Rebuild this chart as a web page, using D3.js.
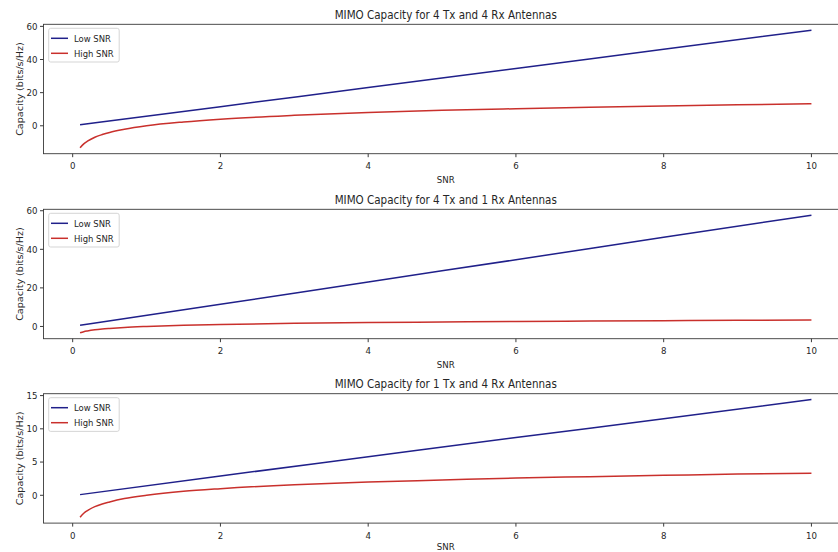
<!DOCTYPE html>
<html>
<head>
<meta charset="utf-8">
<script src="https://cdn.jsdelivr.net/npm/d3@7"></script>
<style>
  body { margin: 0; background: #fff; }
  svg { display: block; }
  text { font-family: "DejaVu Sans", sans-serif; fill: #262626; }
</style>
</head>
<body>
<div id="chart"></div>
<script>
// data
const titles = [
  "MIMO Capacity for 4 Tx and 4 Rx Antennas",
  "MIMO Capacity for 4 Tx and 1 Rx Antennas",
  "MIMO Capacity for 1 Tx and 4 Rx Antennas"
];
const seriesNames = ["Low SNR", "High SNR"];
const xTicks = [0, 2, 4, 6, 8, 10];
const yTicks = [[0, 20, 40, 60], [0, 20, 40, 60], [0, 5, 10, 15]];

const lowX = [0.1, 2, 4, 6, 8, 10];
const low1 = [0.6, 11.5, 23.1, 34.6, 46.2, 57.7];
const low2 = [0.6, 11.5, 23.1, 34.6, 46.2, 57.7];
const low3 = [0.1, 2.9, 5.8, 8.7, 11.5, 14.4];

const highX = [0.1, 0.15, 0.2, 0.3, 0.4, 0.5, 0.7, 1, 1.5, 2, 3, 4, 5, 6, 7, 8, 9, 10];
const high1 = [-13.3, -10.9, -9.3, -6.9, -5.3, -4.0, -2.1, 0, 2.3, 4.0, 6.3, 8.0, 9.3, 10.3, 11.2, 12.0, 12.7, 13.3];
const high2 = [-3.3, -2.7, -2.3, -1.7, -1.3, -1.0, -0.5, 0, 0.6, 1.0, 1.6, 2.0, 2.3, 2.6, 2.8, 3.0, 3.2, 3.3];
const high3 = [-3.3, -2.7, -2.3, -1.7, -1.3, -1.0, -0.5, 0, 0.6, 1.0, 1.6, 2.0, 2.3, 2.6, 2.8, 3.0, 3.2, 3.3];

const lows = [low1, low2, low3];
const highs = [high1, high2, high3];
const colors = ["#20208a", "#c9302c"];

const W = 838, H = 552;
const sx = 0.9; // picture is squeezed sideways
const left = 43.5, right = 848;
const tops = [24.3, 209.3, 393.7];
const ph = 129.4;

const svg = d3.select("#chart").append("svg")
  .attr("width", W).attr("height", H);

// text helper, squeezed horizontally like the reference
function txt(g, x, y, s, size, anchor, rot) {
  return g.append("text")
    .attr("transform", `translate(${x},${y}) scale(${sx},1)` + (rot ? ` rotate(${rot})` : ""))
    .attr("text-anchor", anchor || "start")
    .style("font-size", size + "px")
    .text(s);
}

const xmin = 0.1, xmax = 10, xpad = (xmax - xmin) * 0.05;
const x = d3.scaleLinear().domain([xmin - xpad, xmax + xpad]).range([left, right]);

tops.forEach((top, i) => {
  const bottom = top + ph;
  const lowPts = lowX.map((v, k) => [v, lows[i][k]]);
  const highPts = highX.map((v, k) => [v, highs[i][k]]);
  const ext = d3.extent(lows[i].concat(highs[i]));
  const ypad = (ext[1] - ext[0]) * 0.05;
  const y = d3.scaleLinear().domain([ext[0] - ypad, ext[1] + ypad]).range([bottom, top]);

  const g = svg.append("g");

  // lines
  const line = d3.line().x(d => x(d[0])).y(d => y(d[1])).curve(d3.curveMonotoneX);
  g.append("path").datum(lowPts).attr("d", line)
    .attr("fill", "none").attr("stroke", colors[0]).attr("stroke-width", 1.5);
  g.append("path").datum(highPts).attr("d", line)
    .attr("fill", "none").attr("stroke", colors[1]).attr("stroke-width", 1.5);

  // frame
  g.append("rect").attr("x", left).attr("y", top)
    .attr("width", right - left).attr("height", ph)
    .attr("fill", "none").attr("stroke", "#3a3a3a").attr("stroke-width", 0.9);

  // x ticks
  xTicks.forEach(t => {
    g.append("line").attr("x1", x(t)).attr("x2", x(t))
      .attr("y1", bottom).attr("y2", bottom + 3.5).attr("stroke", "#3a3a3a");
    txt(g, x(t), bottom + 15.5, t, 9.6, "middle");
  });
  // y ticks
  yTicks[i].forEach(t => {
    g.append("line").attr("x1", left - 3.5).attr("x2", left)
      .attr("y1", y(t)).attr("y2", y(t)).attr("stroke", "#3a3a3a");
    txt(g, left - 6, y(t) + 3.4, t, 9.6, "end");
  });

  txt(g, (left + right) / 2, top - 5.5, titles[i], 11.5, "middle");
  txt(g, (left + right) / 2, Math.min(bottom + 29.5, H - 2.5), "SNR", 9.6, "middle");
  txt(g, 22.5, (top + bottom) / 2, "Capacity (bits/s/Hz)", 9.6, "middle", -90);

  // legend
  const lg = g.append("g");
  lg.append("rect").attr("x", left + 5.2).attr("y", top + 4)
    .attr("width", 70.5).attr("height", 33.7).attr("rx", 2)
    .attr("fill", "#fff").attr("fill-opacity", 0.8)
    .attr("stroke", "#d0d0d0").attr("stroke-width", 0.9);
  seriesNames.forEach((s, k) => {
    const ly = top + 14 + k * 15;
    lg.append("line").attr("x1", left + 7.5).attr("x2", left + 24.5)
      .attr("y1", ly).attr("y2", ly)
      .attr("stroke", colors[k]).attr("stroke-width", 1.5);
    txt(lg, left + 30.5, ly + 3.4, s, 9.4, "start");
  });
});
</script>
</body>
</html>
